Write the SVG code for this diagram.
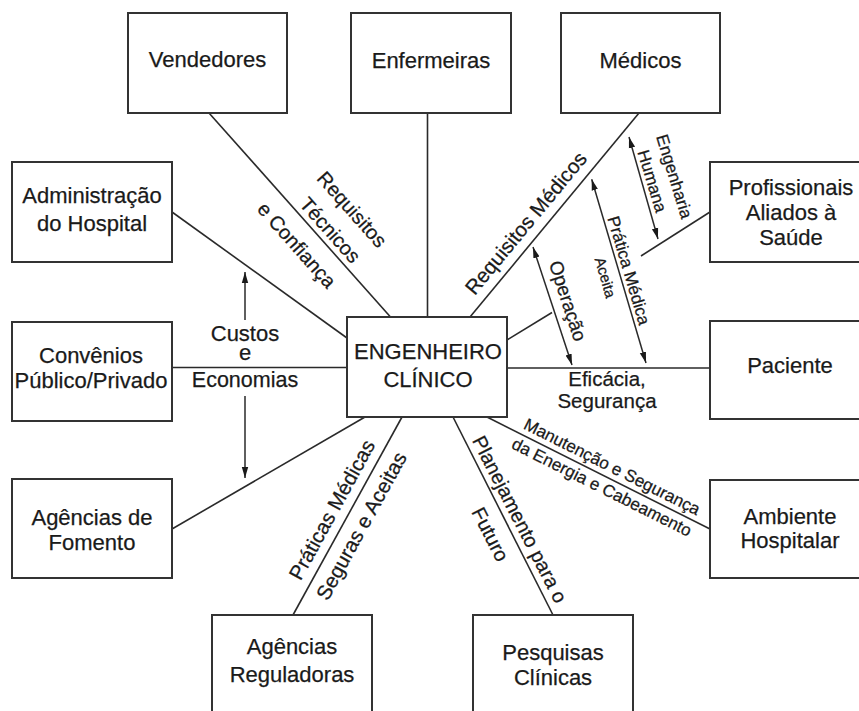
<svg xmlns="http://www.w3.org/2000/svg" width="859" height="711" viewBox="0 0 859 711">
<style>
  .box rect { fill: #ffffff; stroke: #333333; stroke-width: 2; }
  text { font-family: "Liberation Sans", Arial, sans-serif; fill: #1a1a1a; stroke: #1a1a1a; stroke-width: 0.25; }
  .bt { font-size: 22px; text-anchor: middle; }
  .lb { text-anchor: middle; }
  .conn line { stroke: #2a2a2a; stroke-width: 1.6; fill: none; }
  .arr line { stroke: #2a2a2a; stroke-width: 1.5; fill: none; }
</style>
<defs>
  <marker id="ah" viewBox="0 0 11 8" refX="11" refY="4" markerWidth="11" markerHeight="8" markerUnits="userSpaceOnUse" orient="auto-start-reverse">
    <path d="M0,0.8 L11,4 L0,7.2 z" fill="#1a1a1a"/>
  </marker>
</defs>
<rect x="0" y="0" width="859" height="711" fill="#ffffff"/>

<g id="connectors" class="conn">
  <line x1="209" y1="113" x2="390.5" y2="317"/>
  <line x1="427.5" y1="113" x2="427.5" y2="317"/>
  <line x1="639" y1="113" x2="470" y2="317"/>
  <line x1="172" y1="212" x2="347" y2="338"/>
  <line x1="172" y1="367.5" x2="347" y2="367.5"/>
  <line x1="365" y1="417" x2="172" y2="529"/>
  <line x1="402" y1="417" x2="293" y2="615"/>
  <line x1="453" y1="417" x2="553" y2="615"/>
  <line x1="487" y1="417" x2="710" y2="529"/>
  <line x1="507" y1="368" x2="710" y2="368"/>
  <line x1="507" y1="340" x2="552" y2="312.5"/>
  <line x1="641" y1="256" x2="710" y2="212"/>
</g>

<g id="arrows" class="arr">
  <line x1="245" y1="320" x2="245" y2="272" marker-end="url(#ah)"/>
  <line x1="245" y1="396" x2="245" y2="478" marker-end="url(#ah)"/>
  <line x1="629" y1="137" x2="658" y2="239" marker-start="url(#ah)" marker-end="url(#ah)"/>
  <line x1="591.7" y1="179.3" x2="646" y2="363" marker-start="url(#ah)" marker-end="url(#ah)"/>
  <line x1="533" y1="247" x2="572" y2="365" marker-start="url(#ah)" marker-end="url(#ah)"/>
</g>

<g id="labels">
  <g transform="translate(318.6,236.4) rotate(48.4)">
    <text class="lb" font-size="20" x="2" y="-36">Requisitos</text>
    <text class="lb" font-size="20" x="3" y="-6">Técnicos</text>
    <text class="lb" font-size="20" x="-8" y="29">e Confiança</text>
  </g>
  <g transform="translate(539,234) rotate(-50.4)">
    <text class="lb" font-size="20.5" x="0" y="-10">Requisitos Médicos</text>
  </g>
  <g transform="translate(642.7,185.1) rotate(73)">
    <text class="lb" font-size="17" x="1" y="-27">Engenharia</text>
    <text class="lb" font-size="17" x="-1" y="-4.5">Humana</text>
  </g>
  <g transform="translate(619.5,273.3) rotate(73.5)">
    <text class="lb" font-size="17" x="0" y="-4">Prática Médica</text>
    <text class="lb" font-size="15" x="0" y="20">Aceita</text>
  </g>
  <g transform="translate(552.1,306) rotate(72.1)">
    <text class="lb" font-size="19" x="0" y="-10">Operação</text>
  </g>
  <g transform="translate(606.8,477.2) rotate(26.66)">
    <text class="lb" font-size="17" x="0" y="-6">Manutenção e Segurança</text>
    <text class="lb" font-size="17" x="0" y="17">da Energia e Cabeamento</text>
  </g>
  <g transform="translate(507.4,525.7) rotate(62.97)">
    <text class="lb" font-size="20" x="0" y="-7">Planejamento para o</text>
    <text class="lb" font-size="20" x="0" y="26">Futuro</text>
  </g>
  <g transform="translate(346.5,517.8) rotate(-61.17)">
    <text class="lb" font-size="20.5" x="0" y="-9.5">Práticas Médicas</text>
    <text class="lb" font-size="20.5" x="0" y="24">Seguras e Aceitas</text>
  </g>
  <text class="lb" font-size="22" x="245" y="341">Custos</text>
  <text class="lb" font-size="22" x="245" y="360">e</text>
  <text class="lb" font-size="21.5" x="245" y="387">Economias</text>
  <text class="lb" font-size="20.5" x="607" y="386">Eficácia,</text>
  <text class="lb" font-size="20.5" x="607" y="408">Segurança</text>
</g>

<g id="node-center" class="box">
  <rect x="347" y="317" width="160" height="100"/>
  <text class="bt" x="428" y="359">ENGENHEIRO</text>
  <text class="bt" x="428" y="387">CLÍNICO</text>
</g>
<g id="node-vendedores" class="box">
  <rect x="128" y="13" width="159" height="100"/>
  <text class="bt" x="207.5" y="67">Vendedores</text>
</g>
<g id="node-enfermeiras" class="box">
  <rect x="351" y="13" width="160" height="100"/>
  <text class="bt" x="431" y="68">Enfermeiras</text>
</g>
<g id="node-medicos" class="box">
  <rect x="561" y="13" width="159" height="100"/>
  <text class="bt" x="640.5" y="68">Médicos</text>
</g>
<g id="node-administracao" class="box">
  <rect x="12" y="162" width="160" height="100"/>
  <text class="bt" x="92" y="203">Administração</text>
  <text class="bt" x="92" y="231">do Hospital</text>
</g>
<g id="node-profissionais" class="box">
  <rect x="710" y="162" width="160" height="100"/>
  <text class="bt" x="791" y="195">Profissionais</text>
  <text class="bt" x="791" y="220">Aliados à</text>
  <text class="bt" x="791" y="245">Saúde</text>
</g>
<g id="node-convenios" class="box">
  <rect x="12" y="322" width="160" height="99"/>
  <text class="bt" x="91" y="363">Convênios</text>
  <text class="bt" x="91" y="388">Público/Privado</text>
</g>
<g id="node-paciente" class="box">
  <rect x="710" y="321" width="160" height="98"/>
  <text class="bt" x="790" y="373">Paciente</text>
</g>
<g id="node-fomento" class="box">
  <rect x="12" y="479" width="160" height="99"/>
  <text class="bt" x="92" y="525">Agências de</text>
  <text class="bt" x="92" y="550">Fomento</text>
</g>
<g id="node-ambiente" class="box">
  <rect x="710" y="480" width="160" height="98"/>
  <text class="bt" x="790" y="524">Ambiente</text>
  <text class="bt" x="790" y="548">Hospitalar</text>
</g>
<g id="node-reguladoras" class="box">
  <rect x="212" y="615" width="160" height="100"/>
  <text class="bt" x="292" y="654">Agências</text>
  <text class="bt" x="292" y="682">Reguladoras</text>
</g>
<g id="node-pesquisas" class="box">
  <rect x="473" y="615" width="160" height="100"/>
  <text class="bt" x="553" y="660">Pesquisas</text>
  <text class="bt" x="553" y="685">Clínicas</text>
</g>
</svg>
